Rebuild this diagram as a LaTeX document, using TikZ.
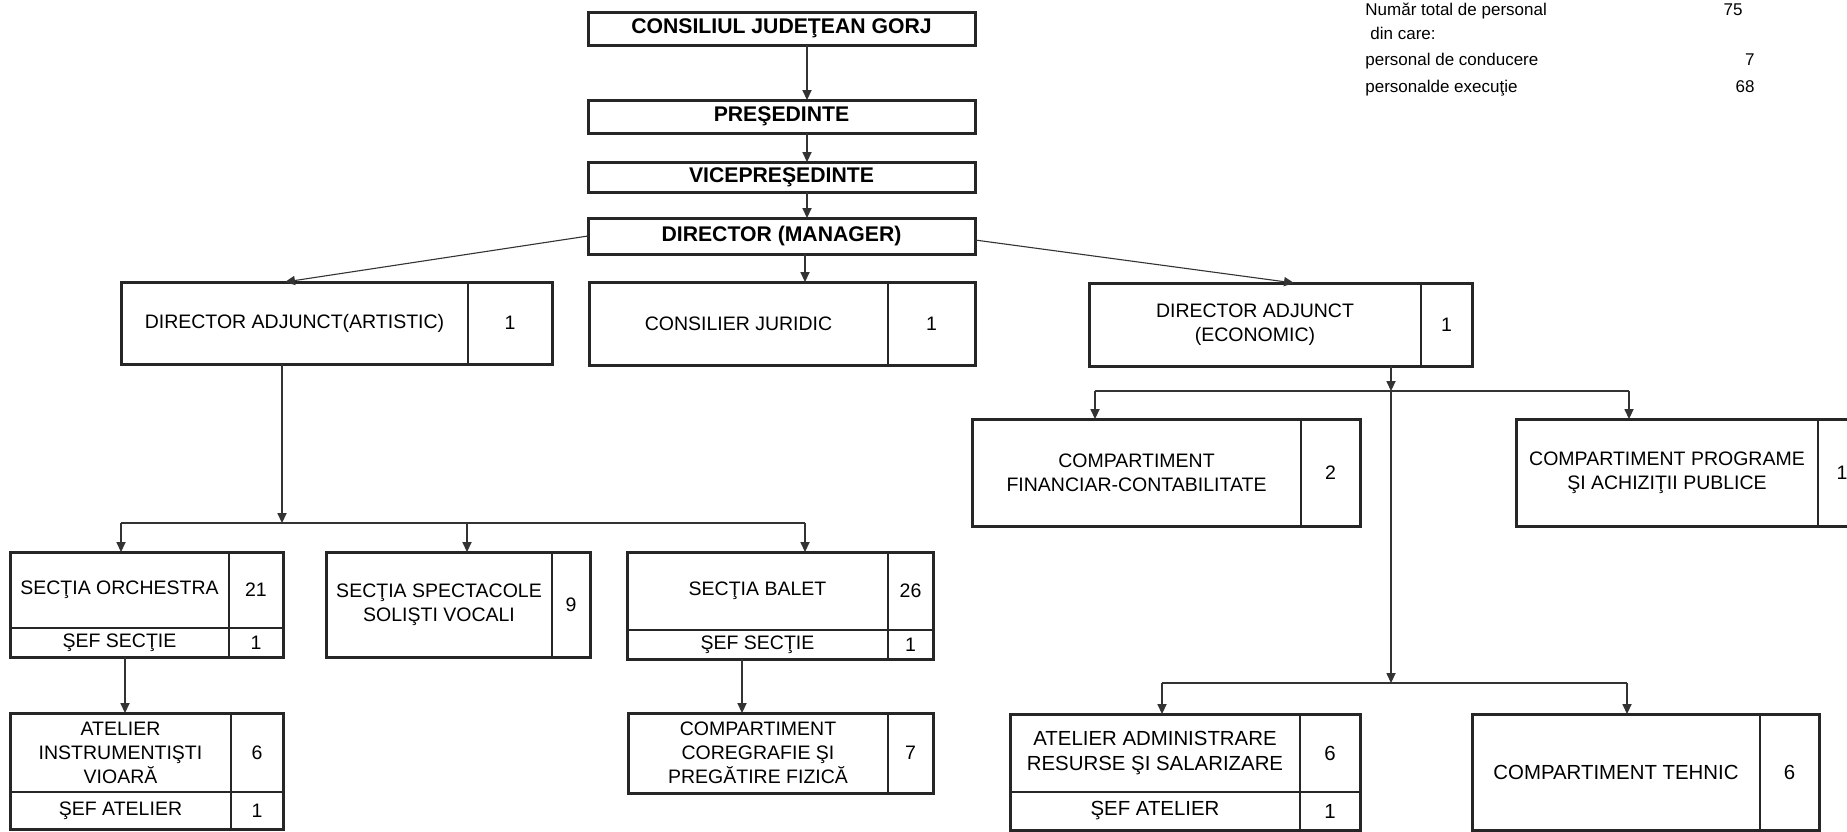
\documentclass[tikz,border=0pt]{standalone}
\usepackage{fontspec}
\setmainfont{Liberation Sans}
\usetikzlibrary{arrows.meta}
\newcommand\mkcell[7][]{%
  \pgfmathsetmacro\cellw{(#5-#3)*0.5}%
  \pgfmathsetmacro\cellh{(#6-#4)*0.5}%
  \node[cell,#1,minimum width=\cellw pt,minimum height=\cellh pt] (#2) at ({(#3+#5)/2},{(#4+#6)/2}) {#7};}
\begin{document}
\begin{tikzpicture}[x=0.5pt,y=-0.5pt,
  cell/.style={inner sep=0pt,outer sep=0pt,align=center,font=\fontsize{9.75}{12}\selectfont},
  big/.style={font=\fontsize{10.2}{12.5}\selectfont},
  boldtxt/.style={font=\fontsize{10.6}{12}\selectfont\bfseries},
  frame/.style={draw=black!85,line width=1.5pt},
  divline/.style={draw=black!85,line width=1.1pt},
  conn/.style={draw=black!80,line width=0.55pt},
  arr/.style={conn,-{Triangle[length=5pt,width=4.6pt]}},
  legend/.style={inner sep=0pt,font=\fontsize{8.5}{10}\selectfont}]
\useasboundingbox (0,0) rectangle (1847,831);
\clip (0,0) rectangle (1847,831);

% top chain
\mkcell[boldtxt]{cj}{588}{12}{975}{45}{CONSILIUL JUDEŢEAN GORJ}
\mkcell[boldtxt]{pres}{588}{100}{975}{133}{PREŞEDINTE}
\mkcell[boldtxt]{vice}{588}{162}{975}{192}{VICEPREŞEDINTE}
\mkcell[boldtxt]{dir}{588}{218}{975}{254}{DIRECTOR (MANAGER)}
\foreach \n in {cj,pres,vice,dir} \draw[frame] (\n.north west) rectangle (\n.south east);

% second row
\mkcell{art}{121}{282}{468}{364}{DIRECTOR ADJUNCT(ARTISTIC)}
\mkcell{artn}{468}{282}{552}{364}{1}
\mkcell{jur}{589}{282}{888}{365}{CONSILIER JURIDIC}
\mkcell{jurn}{888}{282}{975}{365}{1}
\mkcell{eco}{1089}{283}{1421}{366}{DIRECTOR ADJUNCT\\(ECONOMIC)}
\mkcell{econ}{1421}{283}{1472}{366}{1}
\draw[frame] (art.north west) rectangle (artn.south east);
\draw[divline] (art.north east) -- (art.south east);
\draw[frame] (jur.north west) rectangle (jurn.south east);
\draw[divline] (jur.north east) -- (jur.south east);
\draw[frame] (eco.north west) rectangle (econ.south east);
\draw[divline] (eco.north east) -- (eco.south east);

% economic subordinates
\mkcell{fin}{972}{419}{1301}{526}{COMPARTIMENT\\FINANCIAR-CONTABILITATE}
\mkcell{finn}{1301}{419}{1360}{526}{2}
\mkcell{prog}{1516}{419}{1818}{526}{COMPARTIMENT PROGRAME\\ŞI ACHIZIŢII PUBLICE}
\mkcell{progn}{1818}{419}{1866}{526}{1}
\draw[frame] (fin.north west) rectangle (finn.south east);
\draw[divline] (fin.north east) -- (fin.south east);
\draw[frame] (prog.north west) rectangle (progn.south east);
\draw[divline] (prog.north east) -- (prog.south east);

\mkcell[big]{adm}{1010}{714}{1300}{792}{ATELIER ADMINISTRARE\\RESURSE ŞI SALARIZARE}
\mkcell[big]{admn}{1300}{714}{1360}{792}{6}
\mkcell[big]{adms}{1010}{792}{1300}{830}{ŞEF ATELIER}
\mkcell[big]{admsn}{1300}{792}{1360}{830}{1}
\draw[frame] (adm.north west) rectangle (admsn.south east);
\draw[divline] (adm.north east) -- (adms.south east);
\draw[divline] (adm.south west) -- (admn.south east);
\mkcell[big]{teh}{1472}{714}{1760}{830}{COMPARTIMENT TEHNIC}
\mkcell[big]{tehn}{1760}{714}{1819}{830}{6}
\draw[frame] (teh.north west) rectangle (tehn.south east);
\draw[divline] (teh.north east) -- (teh.south east);

% artistic subordinates
\mkcell{orch}{10}{552}{229}{628}{SECŢIA ORCHESTRA}
\mkcell{orchn}{229}{552}{283}{628}{21}
\mkcell{orchs}{10}{628}{229}{657}{ŞEF SECŢIE}
\mkcell{orchsn}{229}{628}{283}{657}{1}
\draw[frame] (orch.north west) rectangle (orchsn.south east);
\draw[divline] (orch.north east) -- (orchs.south east);
\draw[divline] (orch.south west) -- (orchn.south east);

\mkcell{spec}{326}{552}{552}{657}{SECŢIA SPECTACOLE\\SOLIŞTI VOCALI}
\mkcell{specn}{552}{552}{590}{657}{9}
\draw[frame] (spec.north west) rectangle (specn.south east);
\draw[divline] (spec.north east) -- (spec.south east);

\mkcell{bal}{627}{552}{888}{630}{SECŢIA BALET}
\mkcell{baln}{888}{552}{933}{630}{26}
\mkcell{bals}{627}{630}{888}{659}{ŞEF SECŢIE}
\mkcell{balsn}{888}{630}{933}{659}{1}
\draw[frame] (bal.north west) rectangle (balsn.south east);
\draw[divline] (bal.north east) -- (bals.south east);
\draw[divline] (bal.south west) -- (baln.south east);

\mkcell{atel}{10}{713}{231}{792}{ATELIER\\INSTRUMENTIŞTI\\VIOARĂ}
\mkcell{ateln}{231}{713}{283}{792}{6}
\mkcell{atels}{10}{792}{231}{829}{ŞEF ATELIER}
\mkcell{atelsn}{231}{792}{283}{829}{1}
\draw[frame] (atel.north west) rectangle (atelsn.south east);
\draw[divline] (atel.north east) -- (atels.south east);
\draw[divline] (atel.south west) -- (ateln.south east);

\mkcell{cor}{628}{713}{888}{793}{COMPARTIMENT\\COREGRAFIE ŞI\\PREGĂTIRE FIZICĂ}
\mkcell{corn}{888}{713}{933}{793}{7}
\draw[frame] (cor.north west) rectangle (corn.south east);
\draw[divline] (cor.north east) -- (cor.south east);

% connectors: top chain
\coordinate (xa) at (807,0);
\draw[arr] (cj.south -| xa) -- (pres.north -| xa);
\draw[arr] (pres.south -| xa) -- (vice.north -| xa);
\draw[arr] (vice.south -| xa) -- (dir.north -| xa);
\coordinate (xb) at (805,0);
\draw[arr] (dir.south -| xb) -- (jur.north -| xb);
\coordinate (xc) at (285,0);
\draw[arr] (dir.west) -- (art.north -| xc);
\coordinate (xd) at (1294,0);
\draw[arr] ([yshift=-2pt]dir.east) -- (eco.north -| xd);

% artistic bus
\coordinate (busA) at (282,523);
\coordinate (busAl) at (121,523);
\coordinate (busAm) at (467,523);
\coordinate (busAr) at (805,523);
\draw[arr] (art.south -| busA) -- (busA);
\draw[conn] (busAl) -- (busAr);
\draw[arr] (busAl) -- (orch.north -| busAl);
\draw[arr] (busAm) -- (spec.north -| busAm);
\draw[arr] (busAr) -- (bal.north -| busAr);
\coordinate (xe) at (125,0);
\draw[arr] (orchs.south -| xe) -- (atel.north -| xe);
\coordinate (xf) at (742,0);
\draw[arr] (bals.south -| xf) -- (cor.north -| xf);

% economic buses
\coordinate (busB) at (1391,391);
\coordinate (busBl) at (1095,391);
\coordinate (busBr) at (1629,391);
\draw[arr] (eco.south -| busB) -- (busB);
\draw[conn] (busBl) -- (busBr);
\draw[arr] (busBl) -- (fin.north -| busBl);
\draw[arr] (busBr) -- (prog.north -| busBr);
\coordinate (busC) at (1391,683);
\coordinate (busCl) at (1162,683);
\coordinate (busCr) at (1627,683);
\draw[arr] (busB) -- (busC);
\draw[conn] (busCl) -- (busCr);
\draw[arr] (busCl) -- (adm.north -| busCl);
\draw[arr] (busCr) -- (teh.north -| busCr);

% legend
\node[legend,anchor=base west] (l1) at (1365,15) {Număr total de personal};
\node[legend,anchor=base east] (l1n) at (1743,15) {75};
\node[legend,anchor=base west] (l2) at (1370,39) {din care:};
\node[legend,anchor=base west] (l3) at (1365,65) {personal de conducere};
\node[legend,anchor=base east] (l3n) at (1755,65) {7};
\node[legend,anchor=base west] (l4) at (1365,92) {personalde execuţie};
\node[legend,anchor=base east] (l4n) at (1755,92) {68};
\end{tikzpicture}
\end{document}
